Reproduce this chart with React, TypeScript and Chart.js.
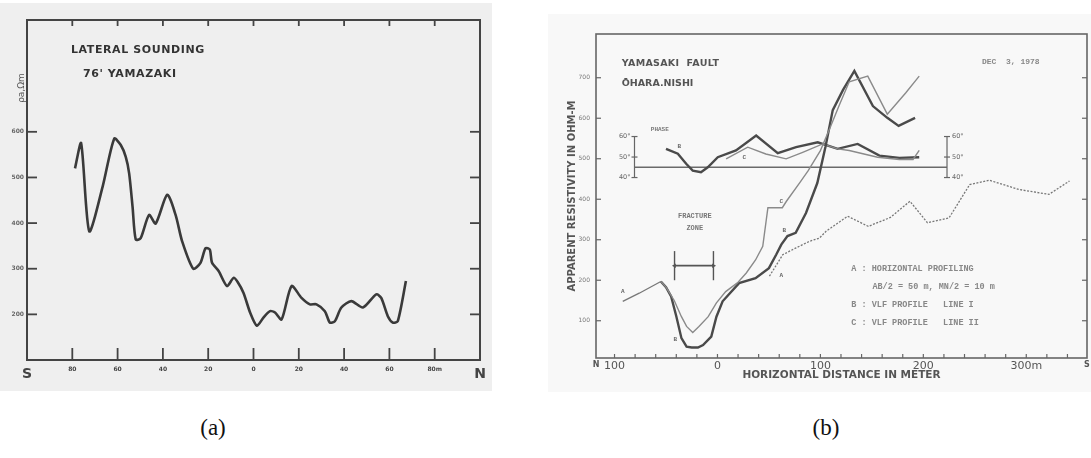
import React, { useEffect, useRef } from 'react';
import { Chart, registerables } from 'chart.js';
Chart.register(...registerables);

// ---------- Panel (a): lateral sounding ----------
const lateralDist = [-78.8, -76.1, -72.5, -66.6, -61.5, -58.6, -56.4, -54.9, -53.4, -52.0, -49.8, -46.1, -43.2, -38.1, -34.4, -31.5, -26.6, -23.4, -21.2, -19.3, -18.3, -15.4, -11.7, -8.8, -7.0, -4.4, -1.5, 1.5, 4.4, 7.3, 9.5, 12.4, 16.8, 21.2, 24.9, 27.8, 31.5, 33.7, 35.9, 38.8, 43.2, 48.3, 54.2, 56.4, 59.3, 61.5, 63.7, 67.3];
const lateralRho = [520, 575, 382, 480, 585, 571, 545, 509, 436, 364, 367, 418, 399, 462, 418, 360, 300, 313, 345, 342, 313, 295, 262, 280, 271, 247, 204, 175, 193, 207, 204, 189, 262, 236, 222, 222, 207, 182, 185, 215, 229, 215, 244, 236, 196, 182, 185, 273];
const aTickDist = [-100, -80, -60, -40, -20, 0, 20, 40, 60, 80, 100];
const aTickLabels = ['S', '80', '60', '40', '20', '0', '20', '40', '60', '80m', 'N'];
const aMarkDist = [-80, -60, -40, -20, 0, 20, 40, 60, 80];
const aRhoTicks = [200, 300, 400, 500, 600];

// ---------- Panel (b): Yamasaki fault ----------
const profADistL = [-92, -76, -55];
const profARhoL = [148, 168, 197];
const profADistR = [50.5, 63.4, 76.4, 89.3, 99, 105.5, 126.5, 146.5, 168, 187, 204, 225, 245, 264, 293, 322, 342];
const profARhoR = [210, 263, 280, 296, 304, 321, 358, 333, 355, 395, 342, 354, 436, 447, 424, 412, 445];
const vlfBDist = [-55, -50, -45, -40, -35, -30, -25, -19, -14, -6, -1, 5, 21, 37, 50, 57, 62, 68, 76, 86, 97, 105, 112, 122, 133, 151, 165, 176, 192];
const vlfBRho = [197, 183, 160, 111, 57, 36, 34, 34, 40, 61, 110, 148, 193, 205, 230, 263, 288, 309, 317, 366, 440, 530, 620, 670, 717, 630, 601, 581, 601];
const vlfCDist = [-55, -50, -42, -35, -30, -24, -18, -9, -1, 8, 20, 28, 37, 44, 49, 63, 67, 80, 88, 100, 110, 118, 128, 146, 165, 183, 196];
const vlfCRho = [197, 183, 150, 110, 86, 71, 86, 110, 144, 172, 195, 218, 250, 284, 379, 379, 395, 441, 470, 520, 580, 630, 690, 704, 610, 663, 704];
const phaseBDist = [-50, -38.5, -30.4, -24, -16, -9.4, 0.3, 18, 37.6, 58.6, 76.4, 97.4, 116.8, 136.2, 157.3, 176.7, 196];
const phaseBDeg = [54, 51.6, 46.7, 43.4, 42.6, 45, 49.9, 53.2, 60.5, 51.9, 54.8, 57.2, 54, 56.4, 50.7, 49.6, 49.9];
const phaseCDist = [8.4, 29.4, 47, 66.7, 82.8, 102.2, 116.8, 128, 155.6, 176.7, 190, 196];
const phaseCDeg = [49.1, 54.8, 51.5, 49.1, 52.3, 56.4, 54, 53.2, 49.9, 48.8, 48.8, 53.2];
const phaseBaseDist = [-80.6, 223];
const phaseBaseDeg = [45, 45];
const phaseTicks = [40, 50, 60];
const phaseBracketDist = [-80.6, 223];
const fractureDist = [-41.7, -3.9];
const fractureRho = [200, 272];
const fractureArrowRho = 236;
const bTickDist = [-118, -100, -80, -60, -40, -20, 0, 20, 40, 60, 80, 100, 120, 140, 160, 180, 200, 220, 240, 260, 280, 300, 320, 340, 359];
const bTickLabels = ['N', '100', '', '', '', '', '0', '', '', '', '', '100', '', '', '', '', '200', '', '', '', '', '300m', '', '', 'S'];
const bMarkDist = [-100, -80, -60, -40, -20, 0, 20, 40, 60, 80, 100, 120, 140, 160, 180, 200, 220, 240, 260, 280, 300, 320, 340];
const bRhoTicks = [100, 200, 300, 400, 500, 600, 700];

const pts = (xs: number[], ys: number[]) => xs.map((x, i) => ({ x, y: ys[i] }));

type TextItem = { x: number; y: number; text: string; font: string; color: string; align?: CanvasTextAlign; rot?: number; yAxis?: string; spacing?: string };
type Mark = { axis: string; side: 'top' | 'bottom' | 'left' | 'right'; values: number[]; len: number };

function makeDecor(cfg: { frameColor: string; frameWidth: number; tickWidth: number; tickColor: string; marks: Mark[]; texts: TextItem[]; brackets?: { xs: number[]; ticks: number[]; axis: string } }) {
  return {
    id: 'decor',
    afterDraw(chart: any) {
      const { ctx, chartArea: ca } = chart;
      ctx.save();
      ctx.strokeStyle = cfg.frameColor;
      ctx.lineWidth = cfg.frameWidth;
      ctx.setLineDash([]);
      ctx.strokeRect(ca.left, ca.top, ca.right - ca.left, ca.bottom - ca.top);
      ctx.strokeStyle = cfg.tickColor;
      ctx.lineWidth = cfg.tickWidth;
      for (const t of cfg.marks) {
        const s = chart.scales[t.axis];
        for (const v of t.values) {
          const p = s.getPixelForValue(v);
          ctx.beginPath();
          if (t.side === 'bottom') { ctx.moveTo(p, ca.bottom); ctx.lineTo(p, ca.bottom - t.len); }
          else if (t.side === 'top') { ctx.moveTo(p, ca.top); ctx.lineTo(p, ca.top + t.len); }
          else if (t.side === 'left') { ctx.moveTo(ca.left, p); ctx.lineTo(ca.left + t.len, p); }
          else { ctx.moveTo(ca.right, p); ctx.lineTo(ca.right - t.len, p); }
          ctx.stroke();
        }
      }
      if (cfg.brackets) {
        const xs = chart.scales.x;
        const ys = chart.scales[cfg.brackets.axis];
        cfg.brackets.xs.forEach((bx, bi) => {
          const px = xs.getPixelForValue(bx);
          const t0 = ys.getPixelForValue(cfg.brackets!.ticks[0]);
          const t1 = ys.getPixelForValue(cfg.brackets!.ticks[cfg.brackets!.ticks.length - 1]);
          ctx.strokeStyle = '#666';
          ctx.lineWidth = 1.2;
          ctx.beginPath(); ctx.moveTo(px, t0); ctx.lineTo(px, t1); ctx.stroke();
          ctx.font = '6.5px "DejaVu Sans"';
          ctx.fillStyle = '#666';
          ctx.textBaseline = 'middle';
          for (const tv of cfg.brackets!.ticks) {
            const py = ys.getPixelForValue(tv);
            ctx.beginPath(); ctx.moveTo(px - 3, py); ctx.lineTo(px + 3, py); ctx.stroke();
            if (bi === 0) { ctx.textAlign = 'right'; ctx.fillText(tv + '°', px - 4, py); }
            else { ctx.textAlign = 'left'; ctx.fillText(tv + '°', px + 5, py); }
          }
        });
      }
      for (const it of cfg.texts) {
        const px = chart.scales.x.getPixelForValue(it.x);
        const py = chart.scales[it.yAxis || 'y'].getPixelForValue(it.y);
        ctx.save();
        ctx.translate(px, py);
        if (it.rot) ctx.rotate(it.rot);
        ctx.font = it.font;
        (ctx as any).letterSpacing = it.spacing || '0px';
        ctx.fillStyle = it.color;
        ctx.textAlign = it.align || 'left';
        ctx.textBaseline = 'middle';
        ctx.fillText(it.text, 0, 0);
        ctx.restore();
      }
      ctx.restore();
    },
  };
}

const noGrid = { display: false, drawTicks: false, tickLength: 0 };

function configA(): any {
  return {
    type: 'line',
    data: {
      datasets: [{ data: pts(lateralDist, lateralRho), borderColor: '#3a3a3a', borderWidth: 2.6, pointRadius: 0, tension: 0.25, fill: false }],
    },
    options: {
      animation: false, responsive: false, devicePixelRatio: 1, events: [],
      layout: { padding: { top: 20, right: 20, left: 0, bottom: 0 } },
      plugins: { legend: { display: false }, tooltip: { enabled: false } },
      scales: {
        x: {
          type: 'linear', min: -100, max: 100,
          grid: noGrid, border: { display: false },
          afterBuildTicks: (s: any) => { s.ticks = aTickDist.map((v) => ({ value: v })); },
          afterFit: (s: any) => { s.height = 35; s.paddingLeft = 0; s.paddingRight = 0; },
          ticks: {
            autoSkip: false, maxRotation: 0, padding: 6, color: '#444',
            font: (c: any) => (c.tick && Math.abs(c.tick.value) === 100)
              ? { family: 'DejaVu Sans', size: 14, weight: 'bold' }
              : { family: 'DejaVu Sans', size: 6, weight: 'bold' },
            callback: (v: number) => aTickLabels[aTickDist.indexOf(v)] ?? '',
          },
        },
        y: {
          type: 'linear', min: 100, max: 845,
          grid: noGrid, border: { display: false },
          afterBuildTicks: (s: any) => { s.ticks = aRhoTicks.map((v) => ({ value: v })); },
          afterFit: (s: any) => { s.width = 27; s.paddingTop = 0; s.paddingBottom = 0; },
          ticks: { padding: 3, color: '#666', font: { family: 'DejaVu Sans', size: 6, weight: 'bold' } },
        },
      },
    },
    plugins: [makeDecor({
      frameColor: '#444', frameWidth: 2, tickWidth: 1.8, tickColor: '#444',
      marks: [
        { axis: 'x', side: 'bottom', values: aMarkDist, len: 12 },
        { axis: 'x', side: 'top', values: aMarkDist, len: 6 },
        { axis: 'y', side: 'left', values: aRhoTicks, len: 10 },
        { axis: 'y', side: 'right', values: aRhoTicks, len: 10 },
      ],
      texts: [
        { x: -80.6, y: 779, text: 'LATERAL SOUNDING', font: 'bold 11px "DejaVu Sans"', color: '#333', spacing: '0.6px' },
        { x: -75.3, y: 727, text: "76' YAMAZAKI", font: 'bold 11px "DejaVu Sans"', color: '#333', spacing: '0.6px' },
        { x: -102.5, y: 696, text: 'ρa,Ωm', font: '9px "DejaVu Sans"', color: '#555', align: 'center', rot: -Math.PI / 2 },
      ],
    })],
  };
}

function configB(): any {
  const thin = { pointRadius: 0, tension: 0, fill: false };
  return {
    type: 'line',
    data: {
      datasets: [
        { data: pts(profADistL, profARhoL), borderColor: '#777', borderWidth: 1.3, ...thin },
        { data: pts(profADistR, profARhoR), borderColor: '#777', borderWidth: 1.3, borderDash: [2, 1.5], ...thin },
        { data: pts(vlfCDist, vlfCRho), borderColor: '#8a8a8a', borderWidth: 1.4, ...thin },
        { data: pts(vlfBDist, vlfBRho), borderColor: '#4a4a4a', borderWidth: 2.4, ...thin },
        { data: pts(phaseCDist, phaseCDeg), yAxisID: 'yp', borderColor: '#8a8a8a', borderWidth: 1.4, ...thin },
        { data: pts(phaseBDist, phaseBDeg), yAxisID: 'yp', borderColor: '#4a4a4a', borderWidth: 2.4, ...thin },
        { data: pts(phaseBaseDist, phaseBaseDeg), yAxisID: 'yp', borderColor: '#6a6a6a', borderWidth: 1.6, ...thin },
        { data: pts([fractureDist[0], fractureDist[0]], fractureRho), borderColor: '#555', borderWidth: 1.4, ...thin },
        { data: pts([fractureDist[1], fractureDist[1]], fractureRho), borderColor: '#555', borderWidth: 1.4, ...thin },
        {
          data: pts(fractureDist, [fractureArrowRho, fractureArrowRho]), borderColor: '#555', borderWidth: 1.6, tension: 0, fill: false,
          pointStyle: 'triangle', pointRadius: 2.6, pointRotation: [270, 90], pointBackgroundColor: '#555', pointBorderColor: '#555', pointBorderWidth: 0,
        },
      ],
    },
    options: {
      animation: false, responsive: false, devicePixelRatio: 1, events: [],
      layout: { padding: { top: 34, right: 3, left: 0, bottom: 0 } },
      plugins: { legend: { display: false }, tooltip: { enabled: false } },
      scales: {
        x: {
          type: 'linear', min: -118, max: 359,
          grid: noGrid, border: { display: false },
          afterBuildTicks: (s: any) => { s.ticks = bTickDist.map((v) => ({ value: v })); },
          afterFit: (s: any) => { s.height = 37; s.paddingLeft = 0; s.paddingRight = 0; },
          ticks: {
            autoSkip: false, maxRotation: 0, padding: 2, color: '#555',
            font: (c: any) => (c.tick && (c.tick.value === -118 || c.tick.value === 359))
              ? { family: 'DejaVu Sans', size: 8, weight: 'bold' }
              : { family: 'DejaVu Sans', size: 11 },
            callback: (v: number) => bTickLabels[bTickDist.indexOf(v)] ?? '',
          },
          title: {
            display: true, text: 'HORIZONTAL DISTANCE IN METER', color: '#555',
            font: { family: 'DejaVu Sans', size: 10.5, weight: 'bold' }, padding: { top: 0, bottom: 13 },
          },
        },
        y: {
          type: 'linear', min: 8, max: 808,
          grid: noGrid, border: { display: false },
          afterBuildTicks: (s: any) => { s.ticks = bRhoTicks.map((v) => ({ value: v })); },
          afterFit: (s: any) => { s.width = 56; s.paddingTop = 0; s.paddingBottom = 0; },
          ticks: { padding: 6, color: '#777', font: { family: 'DejaVu Sans', size: 6 } },
          title: {
            display: true, text: 'APPARENT RESISTIVITY IN OHM-M', color: '#555',
            font: { family: 'DejaVu Sans', size: 10, weight: 'bold' }, padding: { top: 26, bottom: 0 },
          },
        },
        yp: { type: 'linear', display: false, min: -48, max: 110, position: 'right' },
      },
    },
    plugins: [makeDecor({
      frameColor: '#666', frameWidth: 1.6, tickWidth: 1.2, tickColor: '#666',
      marks: [
        { axis: 'x', side: 'bottom', values: bMarkDist, len: 4 },
        { axis: 'y', side: 'left', values: bRhoTicks, len: 5 },
        { axis: 'y', side: 'right', values: bRhoTicks, len: 5 },
      ],
      brackets: { xs: phaseBracketDist, ticks: phaseTicks, axis: 'yp' },
      texts: [
        { x: -93, y: 736, text: 'YAMASAKI  FAULT', font: 'bold 9.5px "DejaVu Sans"', color: '#555', spacing: '0.3px' },
        { x: -93, y: 686, text: 'ŌHARA.NISHI', font: 'bold 9.5px "DejaVu Sans"', color: '#555' },
        { x: 257, y: 740, text: 'DEC  3, 1978', font: 'bold 8px "Liberation Mono"', color: '#888' },
        { x: -56, y: 63.5, yAxis: 'yp', text: 'PHASE', font: 'bold 6px "Liberation Mono"', color: '#777', align: 'center' },
        { x: -37, y: 55, yAxis: 'yp', text: 'B', font: 'bold 6px "Liberation Mono"', color: '#666', align: 'center' },
        { x: 26, y: 50, yAxis: 'yp', text: 'C', font: 'bold 6px "Liberation Mono"', color: '#666', align: 'center' },
        { x: -92, y: 172, text: 'A', font: 'bold 6px "Liberation Mono"', color: '#666', align: 'center' },
        { x: -41, y: 53, text: 'B', font: 'bold 6px "Liberation Mono"', color: '#666', align: 'center' },
        { x: 62, y: 395, text: 'C', font: 'bold 6px "Liberation Mono"', color: '#666', align: 'center' },
        { x: 65, y: 322, text: 'B', font: 'bold 6px "Liberation Mono"', color: '#666', align: 'center' },
        { x: 62, y: 212, text: 'A', font: 'bold 6px "Liberation Mono"', color: '#666', align: 'center' },
        { x: -22, y: 359, text: 'FRACTURE', font: 'bold 7px "Liberation Mono"', color: '#777', align: 'center' },
        { x: -22, y: 329, text: 'ZONE', font: 'bold 7px "Liberation Mono"', color: '#777', align: 'center' },
        { x: 130, y: 228, text: 'A : HORIZONTAL PROFILING', font: 'bold 8.5px "Liberation Mono"', color: '#888' },
        { x: 150.5, y: 183, text: 'AB/2 = 50 m, MN/2 = 10 m', font: 'bold 8.5px "Liberation Mono"', color: '#888' },
        { x: 130, y: 139, text: 'B : VLF PROFILE   LINE I', font: 'bold 8.5px "Liberation Mono"', color: '#888' },
        { x: 130, y: 94, text: 'C : VLF PROFILE   LINE II', font: 'bold 8.5px "Liberation Mono"', color: '#888' },
      ],
    })],
  };
}

const captionStyle = (cx: number): React.CSSProperties => ({
  position: 'absolute', left: cx, top: 428, transform: 'translate(-50%, -50%)',
  fontFamily: '"Liberation Serif", "Times New Roman", serif', fontSize: 23, color: '#111', whiteSpace: 'nowrap',
});

export default function App() {
  const refA = useRef<HTMLCanvasElement>(null);
  const refB = useRef<HTMLCanvasElement>(null);
  useEffect(() => {
    const ca = new Chart(refA.current as HTMLCanvasElement, configA());
    const cb = new Chart(refB.current as HTMLCanvasElement, configB());
    return () => { ca.destroy(); cb.destroy(); };
  }, []);
  return (
    <div style={{ position: 'absolute', left: 0, top: 0, width: 1091, height: 458, background: '#fff', overflow: 'hidden' }}>
      <div style={{ position: 'absolute', left: 0, top: 3, width: 492, height: 388, background: '#efefef' }} />
      <div style={{ position: 'absolute', left: 548, top: 14, width: 543, height: 378, background: '#f8f8f8' }} />
      <canvas ref={refA} width={500} height={395} style={{ position: 'absolute', left: 0, top: 0 }} />
      <canvas ref={refB} width={551} height={395} style={{ position: 'absolute', left: 540, top: 0 }} />
      <div style={captionStyle(213)}>(a)</div>
      <div style={captionStyle(826)}>(b)</div>
    </div>
  );
}
